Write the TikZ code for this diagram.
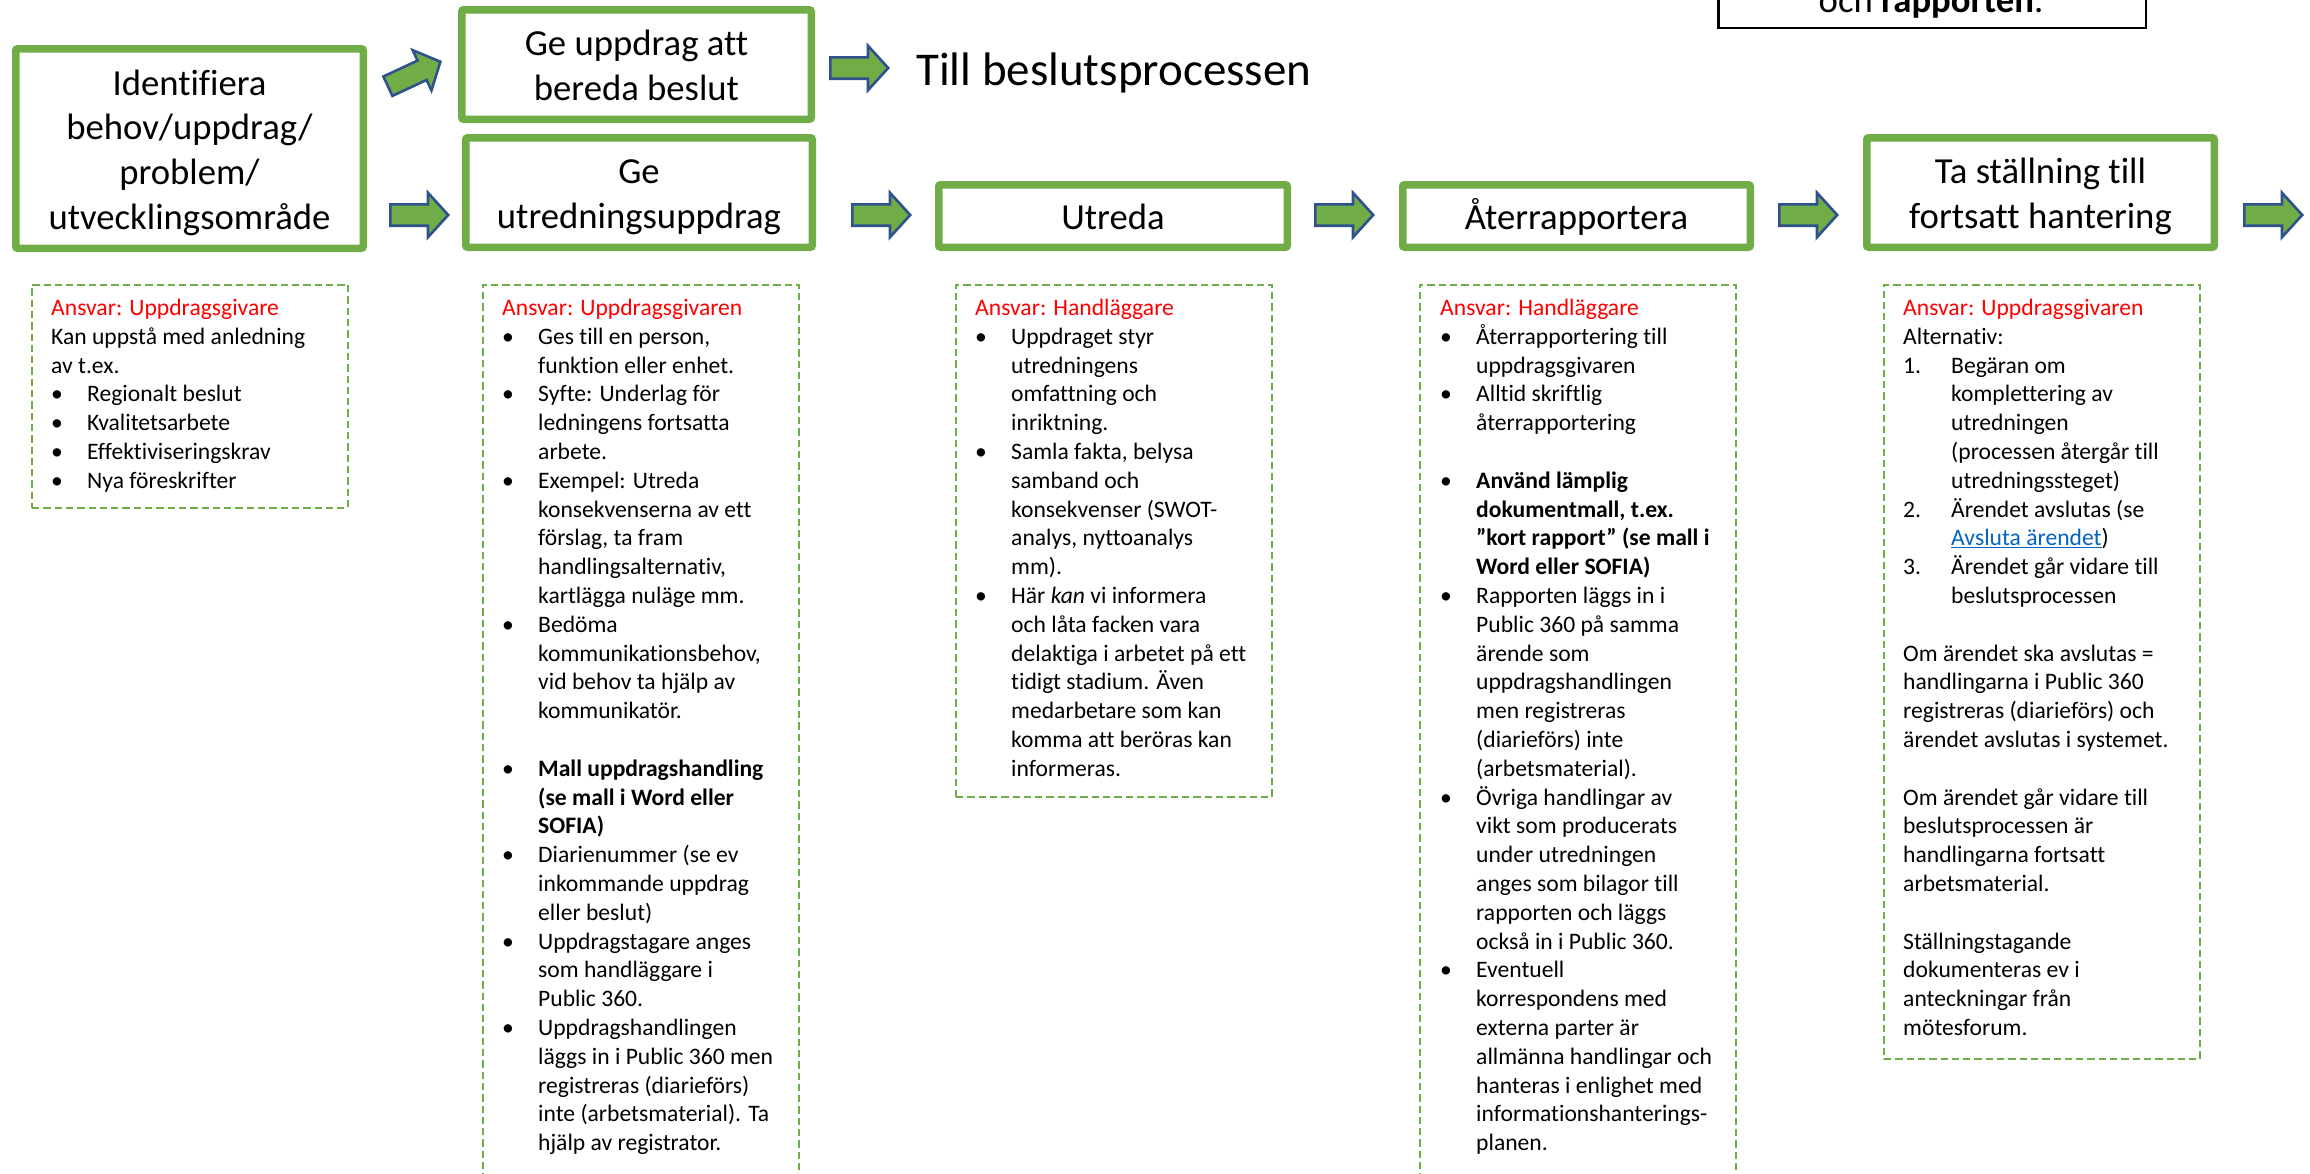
\documentclass[tikz,border=0pt]{standalone}
\usepackage{fontspec}
\setmainfont{Carlito}[Ligatures=CommonOff]
\definecolor{ggreen}{RGB}{112,173,71}
\definecolor{gblue}{RGB}{47,82,143}
\definecolor{linkblue}{RGB}{5,99,193}
\definecolor{ansred}{RGB}{255,0,0}
\newcommand\smallfnt{\fontsize{23.6}{28.8}\selectfont}
\newcommand\bigfnt{\fontsize{36.7}{44.8}\selectfont}
\newcommand\bigtxt[1]{\parbox[t]{340pt}{\bigfnt\centering #1}}
\newcommand\boxtxt[1]{\parbox[t]{330pt}{\smallfnt\raggedright #1}}
\newcommand\bu[1]{\makebox[36pt][l]{•}#1}
\newcommand\ct[1]{\hspace*{36pt}#1}
\newcommand\numit[2]{\makebox[48pt][l]{#1}#2}
\newcommand\nc[1]{\hspace*{48pt}#1}
\newcommand\ansv[1]{\textcolor{ansred}{Ansvar: #1}}
\tikzset{
  gbox/.style={draw=ggreen, line width=7.5pt, rounded corners=2pt, inner sep=0pt, fill=white, text height=27.6pt},
  dbox/.style={draw=ggreen, line width=2pt, dash pattern=on 7.3pt off 4pt, inner sep=0pt, anchor=north west, minimum width=316pt},
  txtnode/.style={anchor=base west, inner sep=0pt},
  barrowsty/.style={fill=ggreen, draw=gblue, line width=2.6pt, line join=miter},
  pics/barrow/.style={code={\draw[barrowsty] (0,-10.7) -- (37.7,-10.7) -- (37.7,-22.2) -- (57.9,0) -- (37.7,22.2) -- (37.7,10.7) -- (0,10.7) -- cycle;}}
}
\begin{document}
\begin{tikzpicture}[x=1pt,y=-1pt]
\fill[white] (0,0) rectangle (2310,1173);
\useasboundingbox (0,0) rectangle (2310,1173);

% top right box (cut off by the page edge)
\node[draw=black, line width=2.5pt, inner sep=0pt, minimum width=427.5pt, minimum height=120pt, anchor=south] (topbox) at (1932.25,29) {};
\node[anchor=base, inner sep=0pt, font=\bigfnt] (toptxt) at (1931,12) {och \textbf{rapporten}.};

% process boxes
\node[gbox, minimum width=347.5pt, minimum height=199.5pt, text depth=134.4pt] (b1) at (189.5,148.5)
  {\bigtxt{Identifiera\\behov/uppdrag/\\problem/\\utvecklingsområde}};
\node[gbox, minimum width=349.5pt, minimum height=109.5pt, text depth=44.8pt] (b2) at (636.5,64.5)
  {\bigtxt{Ge uppdrag att\\bereda beslut}};
\node[gbox, minimum width=346.5pt, minimum height=109.5pt, text depth=44.8pt] (b3) at (639,192.5)
  {\bigtxt{Ge\\utredningsuppdrag}};
\node[gbox, minimum width=348.5pt, minimum height=62.5pt, text depth=0pt] (b4) at (1113,216)
  {\bigtxt{Utreda}};
\node[gbox, minimum width=347.5pt, minimum height=62.5pt, text depth=0pt] (b5) at (1576.5,216)
  {\bigtxt{Återrapportera}};
\node[gbox, minimum width=347.5pt, minimum height=109.5pt, text depth=44.8pt] (b6) at (2040.5,192.5)
  {\bigtxt{Ta ställning till\\fortsatt hantering}};

\node[anchor=base west, inner sep=0pt, font=\fontsize{47}{56}\selectfont] (till) at (916,85) {Till beslutsprocessen};

% block arrows
\pic[rotate=25] at (387.9,86.2) {barrow};
\pic at (830.3,68) {barrow};
\pic at (390.3,215) {barrow};
\pic at (852.3,215) {barrow};
\pic at (1315.3,215) {barrow};
\pic at (1779.3,215) {barrow};
\pic at (2244.3,215) {barrow};

% dashed boxes
\node[dbox, minimum height=223pt] (dA) at (31,283.5) {};
\node[dbox, minimum height=920pt] (dB) at (482,283.5) {};
\node[dbox, minimum height=512.5pt] (dC) at (955,283.5) {};
\node[dbox, minimum height=920pt] (dD) at (1418.5,283.5) {};
\node[dbox, minimum height=774.5pt] (dE) at (1883,283.5) {};

\node[txtnode] (tA) at (51,315.5) {\boxtxt{%
\ansv{Uppdragsgivare}\\
Kan uppstå med anledning\\
av t.ex.\\
\bu{Regionalt beslut}\\
\bu{Kvalitetsarbete}\\
\bu{Effektiviseringskrav}\\
\bu{Nya föreskrifter}}};

\node[txtnode] (tB) at (502,315.5) {\boxtxt{%
\ansv{Uppdragsgivaren}\\
\bu{Ges till en person,}\\
\ct{funktion eller enhet.}\\
\bu{Syfte: Underlag för}\\
\ct{ledningens fortsatta}\\
\ct{arbete.}\\
\bu{Exempel: Utreda}\\
\ct{konsekvenserna av ett}\\
\ct{förslag, ta fram}\\
\ct{handlingsalternativ,}\\
\ct{kartlägga nuläge mm.}\\
\bu{Bedöma}\\
\ct{kommunikationsbehov,}\\
\ct{vid behov ta hjälp av}\\
\ct{kommunikatör.}\\
\mbox{}\\
\bu{\textbf{Mall uppdragshandling}}\\
\ct{\textbf{(se mall i Word eller}}\\
\ct{\textbf{SOFIA)}}\\
\bu{Diarienummer (se ev}\\
\ct{inkommande uppdrag}\\
\ct{eller beslut)}\\
\bu{Uppdragstagare anges}\\
\ct{som handläggare i}\\
\ct{Public 360.}\\
\bu{Uppdragshandlingen}\\
\ct{läggs in i Public 360 men}\\
\ct{registreras (diarieförs)}\\
\ct{inte (arbetsmaterial). Ta}\\
\ct{hjälp av registrator.}}};

\node[txtnode] (tC) at (975,315.5) {\boxtxt{%
\ansv{Handläggare}\\
\bu{Uppdraget styr}\\
\ct{utredningens}\\
\ct{omfattning och}\\
\ct{inriktning.}\\
\bu{Samla fakta, belysa}\\
\ct{samband och}\\
\ct{konsekvenser (SWOT-}\\
\ct{analys, nyttoanalys}\\
\ct{mm).}\\
\bu{Här \textit{kan} vi informera}\\
\ct{och låta facken vara}\\
\ct{delaktiga i arbetet på ett}\\
\ct{tidigt stadium. Även}\\
\ct{medarbetare som kan}\\
\ct{komma att beröras kan}\\
\ct{informeras.}}};

\node[txtnode] (tD) at (1440,315.5) {\boxtxt{%
\ansv{Handläggare}\\
\bu{Återrapportering till}\\
\ct{uppdragsgivaren}\\
\bu{Alltid skriftlig}\\
\ct{återrapportering}\\
\mbox{}\\
\bu{\textbf{Använd lämplig}}\\
\ct{\textbf{dokumentmall, t.ex.}}\\
\ct{\textbf{”kort rapport” (se mall i}}\\
\ct{\textbf{Word eller SOFIA)}}\\
\bu{Rapporten läggs in i}\\
\ct{Public 360 på samma}\\
\ct{ärende som}\\
\ct{uppdragshandlingen}\\
\ct{men registreras}\\
\ct{(diarieförs) inte}\\
\ct{(arbetsmaterial).}\\
\bu{Övriga handlingar av}\\
\ct{vikt som producerats}\\
\ct{under utredningen}\\
\ct{anges som bilagor till}\\
\ct{rapporten och läggs}\\
\ct{också in i Public 360.}\\
\bu{Eventuell}\\
\ct{korrespondens med}\\
\ct{externa parter är}\\
\ct{allmänna handlingar och}\\
\ct{hanteras i enlighet med}\\
\ct{informationshanterings-}\\
\ct{planen.}}};

\node[txtnode] (tE) at (1903,315.5) {\boxtxt{%
\ansv{Uppdragsgivaren}\\
Alternativ:\\
\numit{1.}{Begäran om}\\
\nc{komplettering av}\\
\nc{utredningen}\\
\nc{(processen återgår till}\\
\nc{utredningssteget)}\\
\numit{2.}{Ärendet avslutas (se}\\
\nc{\textcolor{linkblue}{\underline{Avsluta ärendet}})}\\
\numit{3.}{Ärendet går vidare till}\\
\nc{beslutsprocessen}\\
\mbox{}\\
Om ärendet ska avslutas =\\
handlingarna i Public 360\\
registreras (diarieförs) och\\
ärendet avslutas i systemet.\\
\mbox{}\\
Om ärendet går vidare till\\
beslutsprocessen är\\
handlingarna fortsatt\\
arbetsmaterial.\\
\mbox{}\\
Ställningstagande\\
dokumenteras ev i\\
anteckningar från\\
mötesforum.}};
\end{tikzpicture}
\end{document}
